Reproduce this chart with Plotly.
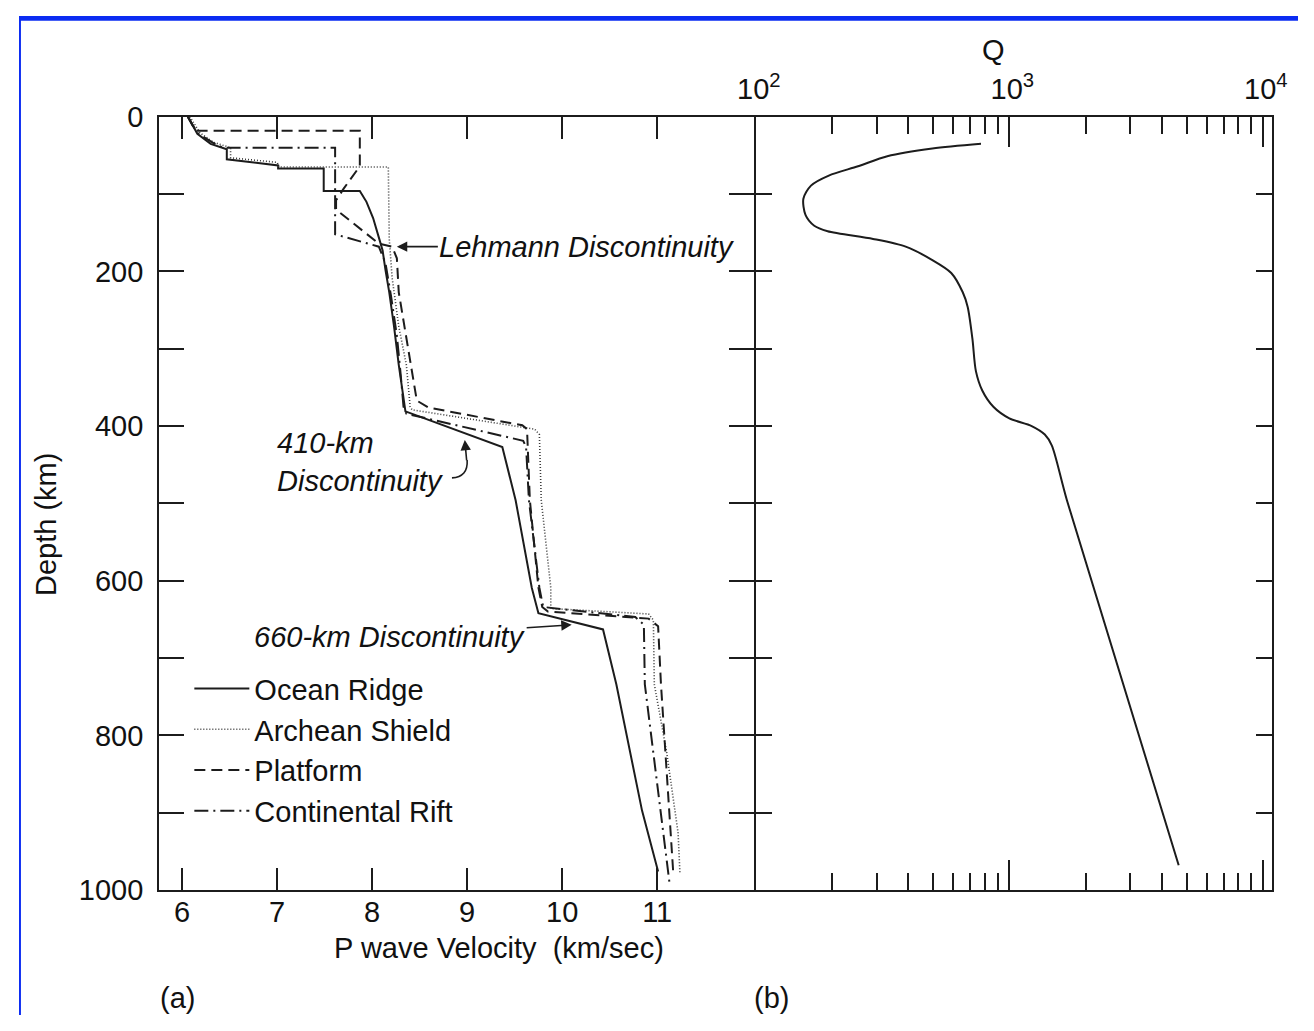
import plotly.graph_objects as go

# ---- P-wave velocity profiles (km/s) against depth (km) ----
ridge_v = [6.06, 6.16, 6.30, 6.47, 6.47, 7.00, 7.01, 7.01, 7.49, 7.49, 7.87, 7.94, 8.01,
           8.07, 8.11, 8.14, 8.18, 8.23, 8.28, 8.35, 9.37, 9.51, 9.68, 9.75, 10.43, 10.57,
           10.84, 11.01]
ridge_d = [0, 22, 35, 42, 55, 63, 63, 67, 67, 96, 96, 110, 131,
           156, 173, 198, 227, 271, 321, 381, 427, 496, 609, 642, 663, 734,
           897, 976]

shield_v = [6.08, 6.19, 6.33, 6.51, 6.51, 7.00, 7.02, 8.17, 8.18, 8.21, 8.28, 8.36, 8.40,
            8.42, 9.71, 9.76, 9.78, 9.88, 9.88, 10.91, 10.96, 10.97, 11.10, 11.22, 11.24]
shield_d = [0, 21, 33, 40, 53, 59, 65, 65, 158, 208, 271, 321, 375,
            379, 404, 411, 496, 609, 636, 643, 651, 734, 822, 926, 979]

platform_v = [6.06, 6.10, 6.14, 7.87, 7.87, 7.70, 7.62, 7.62, 8.07, 8.21, 8.26, 8.28, 8.34,
              8.43, 8.47, 8.59, 9.58, 9.63, 9.66, 9.75, 9.79, 9.85, 10.91, 11.01, 11.04, 11.17]
platform_d = [0, 10, 18, 18, 64, 93, 108, 120, 164, 168, 183, 227, 271,
              333, 367, 376, 399, 404, 496, 609, 634, 640, 649, 659, 734, 979]

rift_v = [6.06, 6.16, 6.33, 6.43, 7.61, 7.61, 8.07, 8.14, 8.20, 8.26, 8.30, 8.33, 8.36,
          9.59, 9.62, 9.65, 9.76, 9.80, 10.77, 10.86, 10.87, 11.13]
rift_d = [0, 21, 34, 40, 40, 152, 168, 189, 233, 283, 333, 375, 384,
          419, 427, 496, 609, 634, 647, 657, 734, 991]

# ---- Attenuation Q against depth (km) ----
q_val = [773, 497, 330, 253, 194, 165, 154, 157, 170, 192, 290, 390, 495, 590, 655,
         685, 715, 738, 782, 865, 1000, 1225, 1380, 1470, 1687, 4656]
q_depth = [35, 41, 51, 64, 76, 89, 106, 127, 141, 148, 158, 168, 185, 202, 227,
           246, 287, 329, 354, 375, 390, 400, 411, 425, 496, 968]

# ---- tick definitions ----
depth_major = [0, 200, 400, 600, 800, 1000]
depth_labels = [str(d) for d in depth_major]
depth_minor = [100, 300, 500, 700, 900]
vel_ticks = [6, 7, 8, 9, 10, 11]
q_major = [100, 1000, 10000]
q_major_labels = ["10<sup>2</sup>", "10<sup>3</sup>", "10<sup>4</sup>"]
q_minor = [200, 300, 400, 500, 600, 700, 800, 900,
           2000, 3000, 4000, 5000, 6000, 7000, 8000, 9000]

W, H = 1314, 1031
INK = "#1c1c1c"
FONT = "Liberation Sans, Arial, Helvetica, sans-serif"
FS = 29


def px(x):
    return x / W


def py(y):
    return 1 - y / H


fig = go.Figure()

line_w = 2
fig.add_trace(go.Scatter(x=ridge_v, y=ridge_d, mode="lines", name="Ocean Ridge",
                         line=dict(color=INK, width=line_w), xaxis="x", yaxis="y"))
fig.add_trace(go.Scatter(x=shield_v, y=shield_d, mode="lines", name="Archean Shield",
                         line=dict(color="#3a3a3a", width=1.6, dash="1px,2px"),
                         xaxis="x", yaxis="y"))
fig.add_trace(go.Scatter(x=platform_v, y=platform_d, mode="lines", name="Platform",
                         line=dict(color=INK, width=line_w, dash="11px,6px"),
                         xaxis="x", yaxis="y"))
fig.add_trace(go.Scatter(x=rift_v, y=rift_d, mode="lines", name="Continental Rift",
                         line=dict(color=INK, width=line_w, dash="14px,5px,2px,5px"),
                         xaxis="x", yaxis="y"))
fig.add_trace(go.Scatter(x=q_val, y=q_depth, mode="lines", showlegend=False,
                         line=dict(color=INK, width=2, shape="spline", smoothing=0.8),
                         xaxis="x2", yaxis="y2"))

y_dom = [1 - 902 / H, 1 - 104 / H]
common_axis = dict(showline=True, linecolor=INK, linewidth=2, ticks="inside",
                   tickcolor=INK, tickwidth=1.5, mirror="ticks", showgrid=False,
                   zeroline=False, tickfont=dict(family=FONT, size=FS, color="#111"))

fig.update_layout(
    width=W, height=H,
    margin=dict(l=0, r=0, t=0, b=0),
    paper_bgcolor="white", plot_bgcolor="white",
    font=dict(family=FONT, size=FS, color="#111"),
    xaxis=dict(domain=[px(144), px(755)], range=[5.758, 12.018], anchor="y",
               tickmode="array", tickvals=vel_ticks, ticklen=22, ticklabelstandoff=-5,
               **common_axis),
    yaxis=dict(domain=y_dom, range=[1000, 0], anchor="x",
               tickmode="array", tickvals=depth_major, ticktext=depth_labels,
               ticklen=25, ticklabelstandoff=8,
               minor=dict(tickmode="array", tickvals=depth_minor, ticks="inside",
                          ticklen=25, tickwidth=1.5, tickcolor=INK, showgrid=False),
               **common_axis),
    xaxis2=dict(type="log", domain=[px(757), px(1287)], range=[2, 4.035], anchor="y2",
                side="top", tickmode="array", tickvals=q_major, ticktext=q_major_labels,
                ticklen=30, ticklabelshift=3, ticklabelstandoff=4,
                minor=dict(tickmode="array", tickvals=q_minor, ticks="inside",
                           ticklen=17, tickwidth=1.5, tickcolor=INK, showgrid=False),
                **common_axis),
    yaxis2=dict(domain=y_dom, range=[1000, 0], anchor="x2", tickmode="array",
                tickvals=depth_major, showticklabels=False, ticklen=16,
                minor=dict(tickmode="array", tickvals=depth_minor, ticks="inside",
                           ticklen=16, tickwidth=1.5, tickcolor=INK, showgrid=False),
                **common_axis),
    legend=dict(x=px(175), y=py(668), xanchor="left", yanchor="top",
                bgcolor="rgba(0,0,0,0)", itemwidth=55, tracegroupgap=0,
                font=dict(family=FONT, size=FS, color="#111")),
    showlegend=True,
)

ann_font = dict(family=FONT, size=FS, color="#111")


def paper_text(text, x, y, **kw):
    return dict(text=text, x=px(x), y=py(y), xref="paper", yref="paper",
                xanchor="center", yanchor="middle", showarrow=False, font=ann_font, **kw)


annotations = [
    paper_text("Depth (km)", 27, 525, textangle=-90),
    paper_text("P wave Velocity\u00a0\u00a0(km/sec)", 493, 962),
    paper_text("Q", 1001, 35),
    paper_text("(a)", 163, 1013),
    paper_text("(b)", 773, 1013),
    # Lehmann discontinuity label with arrow
    dict(text="<i>Lehmann Discontinuity</i>", x=8.26, y=168, xref="x", yref="y",
         ax=190, ay=0, showarrow=True, arrowhead=2, arrowsize=1.3, arrowwidth=1.6,
         arrowcolor=INK, standoff=0, font=ann_font),
    # 410-km discontinuity label
    dict(text="<i>410-km<br>Discontinuity</i>", x=6.98, y=447, xref="x", yref="y",
         xanchor="left", yanchor="middle", align="left", showarrow=False, font=ann_font),
    dict(text="", x=8.975, y=418, xref="x", yref="y", ax=2, ay=22,
         showarrow=True, arrowhead=2, arrowsize=1.3, arrowwidth=1.6,
         arrowcolor=INK, standoff=0),
    # 660-km discontinuity label with arrow
    dict(text="<i>660-km Discontinuity</i>", x=10.10, y=657, xref="x", yref="y",
         ax=-182, ay=12, showarrow=True, arrowhead=2, arrowsize=1.3, arrowwidth=1.6,
         arrowcolor=INK, standoff=0, font=ann_font),
]
fig.update_layout(annotations=annotations)

BLUE = "#0b2cf2"
fig.update_layout(shapes=[
    # curved leader from the 410-km label up to its arrow
    dict(type="path", xref="x", yref="y",
         path="M 8.84,467 Q 9.01,466 9.00,444",
         line=dict(color=INK, width=1.6)),
    # blue slide border along the top and left edges
    dict(type="rect", xref="paper", yref="paper", x0=0, x1=1, y0=1 - 5 / H, y1=1,
         fillcolor=BLUE, line=dict(width=0), layer="above"),
    dict(type="rect", xref="paper", yref="paper", x0=0, x1=2 / W, y0=0, y1=1,
         fillcolor=BLUE, line=dict(width=0), layer="above"),
])

# let the figure fill the page edge to edge
fig.write_html(
    "out.html",
    post_script="document.body.style.margin='0px';"
                "document.documentElement.style.overflow='hidden';",
)
